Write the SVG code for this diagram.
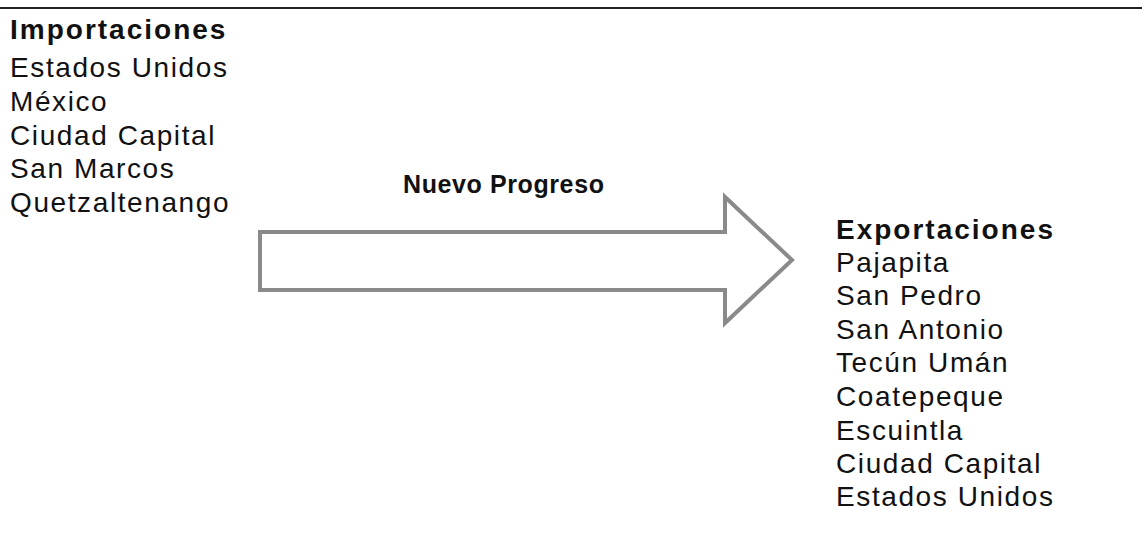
<svg xmlns="http://www.w3.org/2000/svg" width="1142" height="537" viewBox="0 0 1142 537">
<style>
.t{font-family:"Liberation Sans",Arial,sans-serif;font-size:28px;fill:#111;letter-spacing:1.6px}
.b{font-weight:bold;letter-spacing:2px}
.n{font-size:25px;letter-spacing:0.6px}
</style>
<rect width="1142" height="537" fill="#fff"/>
<line x1="0" y1="8" x2="1142" y2="8" stroke="#222" stroke-width="2"/>
<g id="importaciones">
<text class="t b" x="10" y="39">Importaciones</text>
<text class="t" x="10" y="77">Estados Unidos</text>
<text class="t" x="10" y="111">México</text>
<text class="t" x="10" y="145">Ciudad Capital</text>
<text class="t" x="10" y="178">San Marcos</text>
<text class="t" x="10" y="212">Quetzaltenango</text>
</g>
<g id="connectors">
<polygon points="260,232 725,232 725,197 792,260 725,323 725,290 260,290" fill="none" stroke="#8a8a8a" stroke-width="4" stroke-linejoin="miter"/>
<text class="t b n" x="403" y="193">Nuevo Progreso</text>
</g>
<g id="exportaciones">
<text class="t b" x="836" y="239">Exportaciones</text>
<text class="t" x="836" y="272">Pajapita</text>
<text class="t" x="836" y="305">San Pedro</text>
<text class="t" x="836" y="339">San Antonio</text>
<text class="t" x="836" y="372">Tecún Umán</text>
<text class="t" x="836" y="406">Coatepeque</text>
<text class="t" x="836" y="440">Escuintla</text>
<text class="t" x="836" y="473">Ciudad Capital</text>
<text class="t" x="836" y="506">Estados Unidos</text>
</g>
</svg>
